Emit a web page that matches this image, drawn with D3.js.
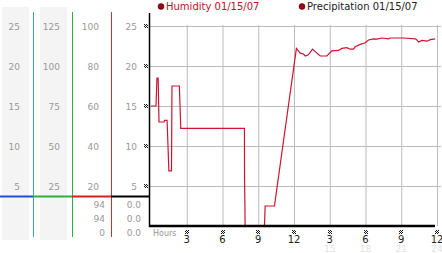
<!DOCTYPE html>
<html lang="en">
<head>
<meta charset="UTF-8">
<title>Humidity 01/15/07</title>
<script src="https://d3js.org/d3.v7.min.js"></script>
<style>
    body { margin: 0; background: #fff; }
    svg { display: block; font-family: "DejaVu Sans", sans-serif; }
    .lbl { font-size: 9px; fill: #999; }
</style>
</head>
<body>
<div id="chart"></div>
<script>
    // hours since midnight and plotted value (left scale 0-25)
    var hours = [0, 0.42, 0.5, 0.6, 0.67, 1.1, 1.13, 1.35, 1.5, 1.72, 1.76, 2.38, 2.5, 7.84, 7.85, 7.9,
        9.52, 9.58, 10.36, 12.2, 12.37, 12.52, 12.79, 12.94, 13.21, 13.55, 13.78, 14.2, 14.76, 15.18,
        15.73, 16.02, 16.44, 16.72, 16.99, 17.14, 17.56, 17.98, 18.25, 18.67, 18.96, 19.38, 19.93,
        20.08, 21.19, 22.18, 22.32, 22.45, 22.74, 23.16, 23.43, 23.85];
    var humidity = [15, 15, 18.5, 18.5, 13, 13, 13.2, 13.2, 6.9, 6.9, 17.5, 17.5, 12.2, 12.2, 6.1, 0,
        0, 2.5, 2.5, 22.2, 21.9, 21.6, 21.5, 21.25, 21.4, 22.1, 21.8, 21.25, 21.25, 21.9,
        21.95, 22.2, 22.3, 22.1, 22.1, 22.4, 22.7, 22.9, 23.25, 23.4, 23.35, 23.5, 23.4,
        23.5, 23.5, 23.4, 23.25, 23.0, 23.2, 23.1, 23.3, 23.4];

    var yTicks = [25, 20, 15, 10, 5];
    var col1Labels = ["25", "20", "15", "10", "5"];
    var col2Labels = ["125", "100", "75", "50", "25"];
    var col3Labels = ["100", "80", "60", "40", "20"];
    var col4Labels = ["25", "20", "15", "10", "5"];
    var col3Readings = ["94", "94", "0"];
    var col4Readings = ["0.0", "0.0", "0.0"];
    var xTicks = [3, 6, 9, 12, 15, 18, 21, 24];
    var xTickLabels = ["3", "6", "9", "12", "3", "6", "9", "12"];
    var faintLabels = [15, 18, 21, 24];
    var legendItems = ["Humidity 01/15/07", "Precipitation 01/15/07"];

    var W = 442, H = 253;
    var svg = d3.select("#chart").append("svg").attr("width", W).attr("height", H);

    // little checker glyph used as tick marker
    var pat = svg.append("defs").append("pattern").attr("id", "chk")
        .attr("patternUnits", "userSpaceOnUse").attr("width", 2).attr("height", 2);
    pat.append("rect").attr("width", 1).attr("height", 1).attr("fill", "#111");
    pat.append("rect").attr("x", 1).attr("y", 1).attr("width", 1).attr("height", 1).attr("fill", "#111");

    var x = d3.scaleLinear().domain([0, 24]).range([151, 437]);
    var y = d3.scaleLinear().domain([0, 25]).range([226, 26]);

    // left side panels
    svg.append("rect").attr("x", 2).attr("y", 7).attr("width", 27).attr("height", 233).attr("fill", "#f4f4f4");
    svg.append("rect").attr("x", 40).attr("y", 7).attr("width", 27).attr("height", 233).attr("fill", "#f4f4f4");

    var cols = [
        { labels: col1Labels, right: 20 },
        { labels: col2Labels, right: 60 },
        { labels: col3Labels, right: 99 },
        { labels: col4Labels, right: 137 }
    ];
    cols.forEach(function (c) {
        svg.selectAll(null).data(c.labels).enter().append("text")
            .attr("class", "lbl")
            .attr("x", c.right)
            .attr("y", (d, i) => y(yTicks[i]) + 3.5)
            .attr("text-anchor", "end")
            .text(d => d);
    });

    // column separators
    var seps = [
        { x: 33.5, col: "#3aa0d8" },
        { x: 72.5, col: "#30b040" },
        { x: 111.5, col: "#d03030" }
    ];
    seps.forEach(function (s) {
        svg.append("line").attr("x1", s.x).attr("x2", s.x).attr("y1", 12).attr("y2", 237)
            .attr("stroke", s.col).attr("stroke-width", 1);
    });
    var hsep = [["#1f4fd8", 0, 33], ["#2fb03a", 33, 72], ["#d42020", 72, 111], ["#000", 111, 149]];
    hsep.forEach(function (s) {
        svg.append("line").attr("x1", s[1]).attr("x2", s[2]).attr("y1", 196.5).attr("y2", 196.5)
            .attr("stroke", s[0]).attr("stroke-width", 2);
    });

    svg.selectAll(null).data(col3Readings).enter().append("text")
        .attr("class", "lbl").attr("x", 105).attr("y", (d, i) => 207.5 + i * 14)
        .attr("text-anchor", "end").text(d => d);
    svg.selectAll(null).data(col4Readings).enter().append("text")
        .attr("class", "lbl").attr("x", 141).attr("y", (d, i) => 207.5 + i * 14)
        .attr("text-anchor", "end").text(d => d);

    // grid
    svg.append("g")
        .attr("transform", "translate(150,0)")
        .call(d3.axisLeft(y).tickValues(yTicks).tickSize(-(441 - 150)).tickFormat(""))
        .call(g => g.select(".domain").remove())
        .call(g => g.selectAll("line").attr("stroke", "#bbb"));
    svg.append("g")
        .attr("transform", "translate(0,226)")
        .call(d3.axisBottom(x).tickValues(xTicks).tickSize(-201).tickFormat(""))
        .call(g => g.select(".domain").remove())
        .call(g => g.selectAll("line").attr("stroke", "#bbb"));

    // data line
    var pts = hours.map((h, i) => [h, humidity[i]]);
    svg.append("path").datum(pts)
        .attr("fill", "none")
        .attr("stroke", "#cc1530")
        .attr("stroke-width", 1.2)
        .attr("d", d3.line().x(d => x(d[0])).y(d => y(d[1])));

    // axes
    svg.append("line").attr("x1", 149.5).attr("x2", 149.5).attr("y1", 13).attr("y2", 227)
        .attr("stroke", "#000").attr("stroke-width", 1.5);
    svg.append("line").attr("x1", 149).attr("x2", 435).attr("y1", 226).attr("y2", 226)
        .attr("stroke", "#000").attr("stroke-width", 2.5);

    // tick glyphs
    svg.selectAll(null).data(yTicks).enter().append("rect")
        .attr("x", 144).attr("y", d => Math.round(y(d)) - 2)
        .attr("width", 4).attr("height", 4).attr("fill", "url(#chk)");
    svg.selectAll(null).data(xTicks).enter().append("rect")
        .attr("x", d => Math.round(x(d)) - 2).attr("y", 230)
        .attr("width", 4).attr("height", 4).attr("fill", "url(#chk)");
    svg.selectAll(null).data(xTickLabels).enter().append("text")
        .attr("x", (d, i) => x(xTicks[i])).attr("y", 243)
        .attr("text-anchor", "middle").attr("font-size", "10px").attr("fill", "#222")
        .text(d => d);
    svg.selectAll(null).data(faintLabels).enter().append("text")
        .attr("x", d => x(d)).attr("y", 252)
        .attr("text-anchor", "middle").attr("font-size", "9px").attr("fill", "#e2e2e2")
        .text(d => d);
    svg.append("text").attr("x", 153).attr("y", 236).attr("font-size", "8px").attr("fill", "#999")
        .text("Hours");

    // legend
    var legX = [161, 302];
    var legCol = ["#c0102a", "#222"];
    legendItems.forEach(function (t, i) {
        svg.append("circle").attr("cx", legX[i]).attr("cy", 6.5).attr("r", 3)
            .attr("fill", "#a00010").attr("stroke", "#300").attr("stroke-width", 0.5);
        svg.append("text").attr("x", legX[i] + 5).attr("y", 10).attr("font-size", "10px")
            .attr("fill", legCol[i]).text(t);
    });
</script>
</body>
</html>
